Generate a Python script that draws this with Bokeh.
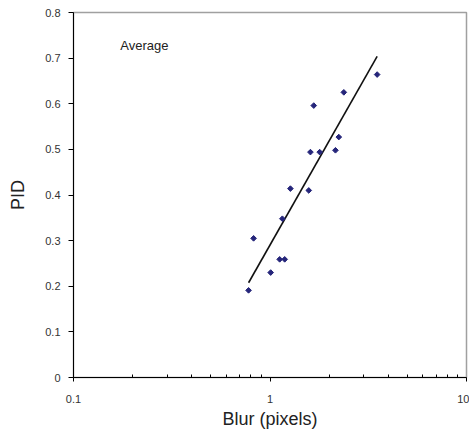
import numpy as np
from bokeh.plotting import figure
from bokeh.models import Label, FixedTicker
from bokeh.embed import file_html
from bokeh.resources import INLINE

# Data
blur = [0.778, 0.825, 1.008, 1.12, 1.188, 1.156, 1.27, 1.575, 1.606, 1.67, 1.79, 2.153, 2.239, 2.375, 3.51]
pid = [0.191, 0.305, 0.230, 0.259, 0.259, 0.348, 0.414, 0.410, 0.494, 0.596, 0.494, 0.498, 0.527, 0.625, 0.664]
y_ticks = [0, 0.1, 0.2, 0.3, 0.4, 0.5, 0.6, 0.7, 0.8]
x_ticks = [0.1, 1, 10]
x_tick_labels = {0.1: "0.1", 1: "1", 10: "10"}

# logarithmic trend line (least squares on log x)
lx = np.log10(blur)
slope, intercept = np.polyfit(lx, pid, 1)
tx = np.array([min(blur), max(blur)])
ty = slope * np.log10(tx) + intercept

p = figure(width=469, height=433, x_axis_type="log", x_range=(0.1, 10), y_range=(0, 0.8),
           output_backend="svg", toolbar_location=None,
           min_border_left=73, min_border_right=3, min_border_top=12, min_border_bottom=56)

p.xgrid.visible = False
p.ygrid.visible = False
p.outline_line_color = "#a0a0a0"
p.outline_line_width = 1.5
p.background_fill_color = "white"
p.border_fill_color = "white"

p.line(tx, ty, line_color="#111111", line_width=1.6)
p.scatter(blur, pid, marker="square", angle=np.pi / 4, size=4,
          fill_color="#25257a", line_color="#25257a")

p.add_layout(Label(x=0.173, y=0.727, text="Average", text_font="Liberation Sans",
                   text_font_size="13px", text_color="#222222", text_baseline="alphabetic"))

xa = p.xaxis[0]
xa.ticker = FixedTicker(ticks=x_ticks,
                        minor_ticks=[v * m for v in [0.1, 1] for m in range(2, 10)])
xa.major_label_overrides = x_tick_labels
xa.axis_label = "Blur (pixels)"
xa.axis_label_text_font = "Liberation Sans"
xa.axis_label_text_font_size = "18px"
xa.axis_label_text_font_style = "normal"
xa.axis_label_text_color = "#222222"
xa.axis_label_standoff = 3
xa.major_label_text_font = "Liberation Sans"
xa.major_label_text_font_size = "11px"
xa.major_label_text_color = "#333333"
xa.major_label_standoff = 13
xa.major_tick_in = 0
xa.major_tick_out = 4
xa.minor_tick_in = 3
xa.minor_tick_out = 0
xa.axis_line_color = "black"
xa.major_tick_line_color = "black"
xa.minor_tick_line_color = "black"

ya = p.yaxis[0]
ya.ticker = FixedTicker(ticks=y_ticks, minor_ticks=[])
ya.axis_label = "PID"
ya.axis_label_text_font = "Liberation Sans"
ya.axis_label_text_font_size = "18px"
ya.axis_label_text_font_style = "normal"
ya.axis_label_text_color = "#222222"
ya.axis_label_standoff = 14
ya.major_label_text_font = "Liberation Sans"
ya.major_label_text_font_size = "11px"
ya.major_label_text_color = "#333333"
ya.major_label_standoff = 8
ya.major_tick_in = 0
ya.major_tick_out = 5
ya.minor_tick_line_color = None
ya.axis_line_color = "black"
ya.major_tick_line_color = "black"

open("out.html", "w").write(file_html(p, INLINE))
